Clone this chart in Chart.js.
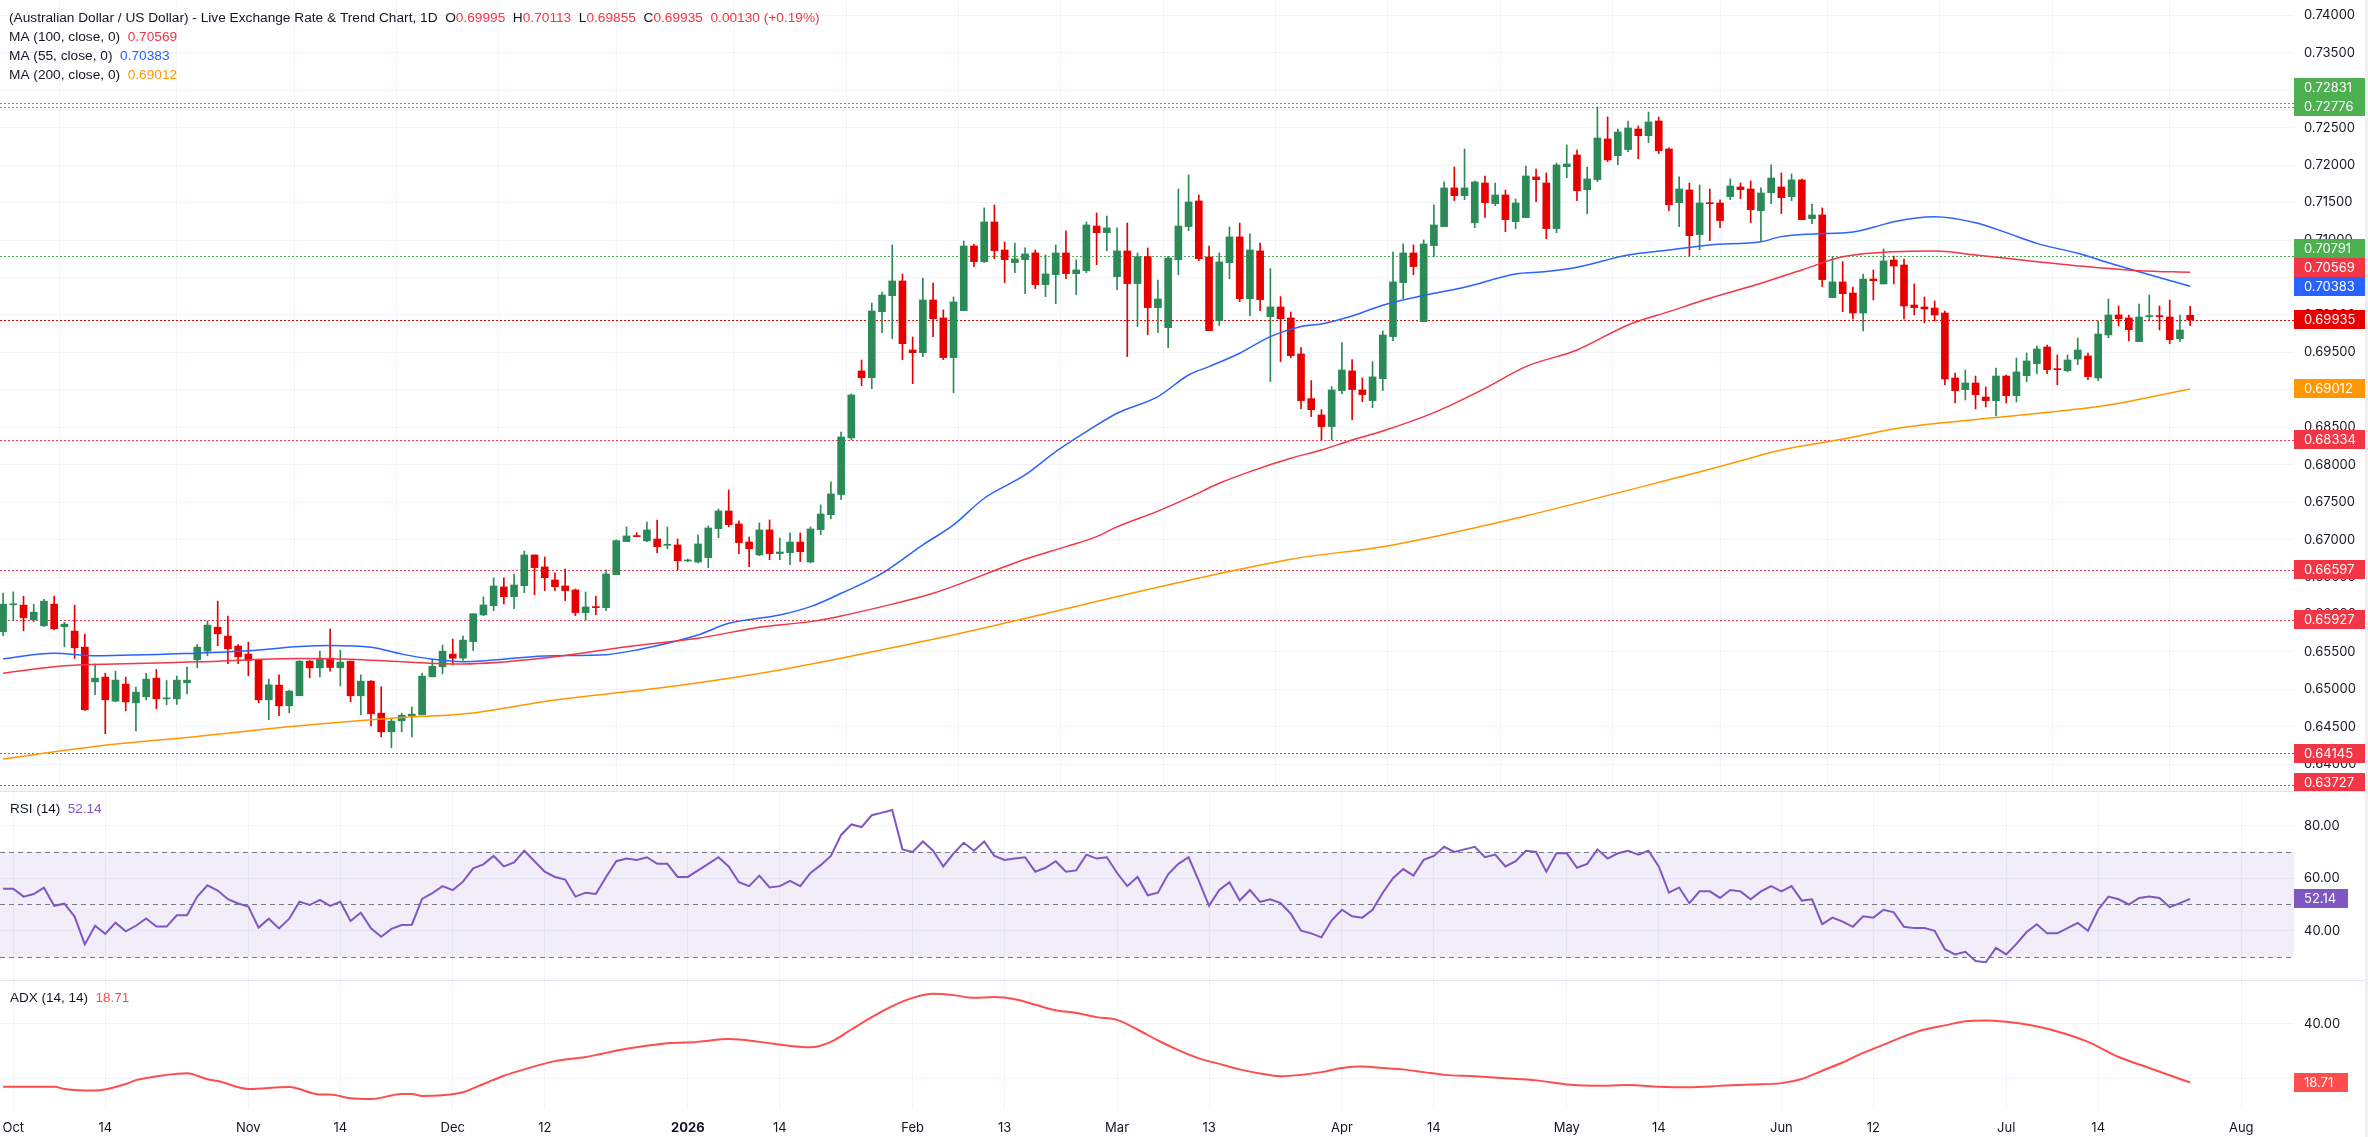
<!DOCTYPE html>
<html>
<head>
<meta charset="utf-8">
<script src="https://cdn.jsdelivr.net/npm/chart.js@4.4.1/dist/chart.umd.min.js"></script>
<style>
  html, body { margin: 0; padding: 0; background: #fff; }
  #wrap { position: relative; width: 2368px; height: 1137px; overflow: hidden; }
  #wrap canvas { position: absolute; left: 0; }
  .sep { position: absolute; left: 0; width: 2368px; height: 1px; background: #e0e3eb; }
</style>
</head>
<body>
<div id="wrap">
  <canvas id="price" width="2368" height="792" style="top:0"></canvas>
  <canvas id="rsi" width="2368" height="188" style="top:792px"></canvas>
  <canvas id="adx" width="2368" height="157" style="top:980px"></canvas>
  <div class="sep" style="top:791px"></div>
  <div class="sep" style="top:980px"></div>
  <div style="position:absolute;left:2365px;top:0;width:3px;height:1137px;background:#eef0f4"></div>
</div>
<script>
// daily bars, index 0 = 1 Oct 2025 (weekdays only), first bar is 30 Sep
const firstBar = -1;

const open = [
  0.65769,0.66129,0.66125,0.65929,0.65849,0.66138,0.65836,0.65778,0.65564,0.65101,
  0.65164,0.64843,0.65070,0.64821,0.64901,0.65150,0.64874,0.64874,0.65088,0.65395,
  0.65511,0.65831,0.65711,0.65578,0.65471,0.65395,0.64861,0.65057,0.64781,0.64915,
  0.65377,0.65288,0.65417,0.65288,0.65377,0.64915,0.65110,0.64683,0.64434,0.64581,
  0.64648,0.64661,0.65168,0.65302,0.65471,0.65417,0.65638,0.65994,0.66118,0.66368,
  0.66238,0.66385,0.66795,0.66635,0.66461,0.66381,0.66328,0.66025,0.66101,0.66092,
  0.66532,0.66973,0.67053,0.66982,0.67008,0.66924,0.66928,0.66715,0.66701,0.66759,
  0.67146,0.67382,0.67209,0.66968,0.66795,0.67129,0.66813,0.66826,0.66968,0.66701,
  0.67133,0.67333,0.67601,0.68357,0.69251,0.69162,0.70043,0.70257,0.70453,0.69532,
  0.69496,0.70199,0.69959,0.69430,0.70057,0.70920,0.70711,0.71241,0.70867,0.70698,
  0.70738,0.70827,0.70404,0.70538,0.70827,0.70551,0.70591,0.71187,0.71098,0.70511,
  0.70854,0.70418,0.70778,0.70097,0.69830,0.70738,0.71179,0.71521,0.70774,0.69924,
  0.70698,0.71041,0.70217,0.70854,0.69977,0.70106,0.69959,0.69479,0.68882,0.68664,
  0.68509,0.68989,0.69252,0.68998,0.68856,0.69149,0.69710,0.70431,0.70827,0.69910,
  0.70925,0.71179,0.71695,0.71592,0.71230,0.71761,0.71485,0.71601,0.71245,0.71299,
  0.71842,0.71761,0.71152,0.71979,0.72135,0.71672,0.71806,0.72349,0.72126,0.72207,
  0.72482,0.72393,0.72589,0.72215,0.71499,0.71668,0.71072,0.71494,0.71494,0.71579,
  0.71708,0.71681,0.71392,0.71632,0.71708,0.71579,0.71802,0.71285,0.71334,0.70231,
  0.70440,0.70292,0.70025,0.70479,0.70413,0.70733,0.70666,0.70132,0.70106,0.70092,
  0.70025,0.69158,0.69002,0.69091,0.68904,0.68855,0.69184,0.68922,0.69189,0.69349,
  0.69572,0.69278,0.69256,0.69411,0.69451,0.69158,0.69732,0.69999,0.69959,0.69643,
  0.69977,0.69985,0.69972,0.69683,0.69995
];
const high = [
  0.66285,0.66303,0.66245,0.66138,0.66201,0.66245,0.65898,0.66125,0.65738,0.65337,
  0.65217,0.65244,0.65164,0.65030,0.65213,0.65266,0.65119,0.65177,0.65297,0.65600,
  0.65911,0.66178,0.65978,0.65600,0.65631,0.65404,0.65137,0.65195,0.64990,0.65386,
  0.65386,0.65511,0.65805,0.65524,0.65377,0.65195,0.65119,0.65035,0.64616,0.64683,
  0.64763,0.65217,0.65404,0.65591,0.65671,0.65711,0.66010,0.66234,0.66488,0.66488,
  0.66541,0.66848,0.66795,0.66768,0.66555,0.66608,0.66341,0.66301,0.66247,0.66595,
  0.66995,0.67169,0.67093,0.67235,0.67262,0.67169,0.67008,0.66741,0.67062,0.67182,
  0.67409,0.67663,0.67249,0.67035,0.67222,0.67262,0.67022,0.67089,0.67089,0.67169,
  0.67462,0.67770,0.68437,0.68944,0.69398,0.70159,0.70306,0.70933,0.70546,0.69705,
  0.70493,0.70426,0.70066,0.70240,0.70987,0.70947,0.71428,0.71468,0.70974,0.70960,
  0.70894,0.70867,0.70800,0.70934,0.71121,0.70734,0.71241,0.71361,0.71321,0.71161,
  0.71227,0.70827,0.70894,0.70466,0.70782,0.71681,0.71868,0.71601,0.70920,0.70827,
  0.71174,0.71227,0.71081,0.70960,0.70618,0.70244,0.70039,0.69563,0.69123,0.68735,
  0.69043,0.69630,0.69403,0.69158,0.69376,0.69786,0.70840,0.70947,0.70934,0.71001,
  0.71468,0.71775,0.71975,0.72215,0.71788,0.71855,0.71761,0.71668,0.71548,0.71988,
  0.71948,0.71895,0.72028,0.72269,0.72202,0.71975,0.72776,0.72643,0.72482,0.72589,
  0.72522,0.72709,0.72643,0.72229,0.71842,0.71761,0.71735,0.71681,0.71535,0.71815,
  0.71761,0.71788,0.71695,0.72002,0.71895,0.71882,0.71815,0.71480,0.71428,0.70778,
  0.70711,0.70373,0.70546,0.70600,0.70880,0.70786,0.70746,0.70413,0.70239,0.70186,
  0.70052,0.69224,0.69265,0.69184,0.69038,0.69291,0.69198,0.69425,0.69491,0.69585,
  0.69598,0.69465,0.69465,0.69692,0.69491,0.69919,0.70212,0.70119,0.69999,0.70146,
  0.70266,0.70119,0.70199,0.69999,0.70113
];
const low = [
  0.65716,0.65916,0.65782,0.65902,0.65840,0.65796,0.65569,0.65413,0.64719,0.64928,
  0.64407,0.64834,0.64714,0.64447,0.64861,0.64740,0.64794,0.64799,0.64941,0.65288,
  0.65449,0.65582,0.65342,0.65342,0.65182,0.64821,0.64594,0.64648,0.64688,0.64915,
  0.65155,0.65168,0.65244,0.65048,0.64834,0.64661,0.64514,0.64367,0.64220,0.64434,
  0.64367,0.64661,0.65168,0.65208,0.65328,0.65386,0.65518,0.65985,0.66052,0.66141,
  0.66078,0.66292,0.66265,0.66319,0.66319,0.66185,0.65985,0.65918,0.65998,0.66052,
  0.66532,0.66973,0.67040,0.66973,0.66826,0.66879,0.66595,0.66706,0.66688,0.66626,
  0.67026,0.67173,0.66813,0.66639,0.66786,0.66732,0.66732,0.66666,0.66706,0.66688,
  0.67066,0.67280,0.67534,0.68330,0.69055,0.69015,0.69763,0.69683,0.69402,0.69082,
  0.69443,0.69710,0.69403,0.68962,0.70057,0.70645,0.70698,0.70751,0.70431,0.70564,
  0.70284,0.70351,0.70244,0.70151,0.70484,0.70271,0.70564,0.70671,0.70858,0.70337,
  0.69443,0.69844,0.69737,0.69763,0.69563,0.70538,0.71125,0.70725,0.69790,0.69857,
  0.70484,0.70177,0.69990,0.70057,0.69110,0.69376,0.69430,0.68749,0.68642,0.68331,
  0.68331,0.68949,0.68602,0.68842,0.68762,0.68989,0.69657,0.70217,0.70538,0.69910,
  0.70778,0.71179,0.71526,0.71539,0.71165,0.71300,0.71459,0.71112,0.71152,0.71299,
  0.71512,0.71018,0.71098,0.71833,0.71526,0.71352,0.71779,0.72046,0.72006,0.72180,
  0.72086,0.72300,0.72153,0.71392,0.71179,0.70787,0.70871,0.70992,0.71165,0.71539,
  0.71552,0.71232,0.70992,0.71485,0.71352,0.71526,0.71272,0.71219,0.70378,0.70231,
  0.70044,0.69945,0.69785,0.70199,0.70413,0.70413,0.69945,0.69999,0.69892,0.69919,
  0.69064,0.68824,0.68864,0.68744,0.68771,0.68651,0.68824,0.68837,0.69109,0.69216,
  0.69216,0.69069,0.69242,0.69336,0.69136,0.69122,0.69696,0.69852,0.69652,0.69643,
  0.69932,0.69799,0.69616,0.69643,0.69855
];
const close = [
  0.66138,0.66134,0.65956,0.66031,0.66178,0.65809,0.65871,0.65555,0.64728,0.65150,
  0.64861,0.65124,0.64834,0.64963,0.65137,0.64874,0.64883,0.65124,0.65124,0.65564,
  0.65858,0.65742,0.65542,0.65435,0.65386,0.64861,0.65061,0.64781,0.64977,0.65377,
  0.65288,0.65417,0.65293,0.65364,0.64915,0.65110,0.64674,0.64434,0.64576,0.64656,
  0.64670,0.65177,0.65310,0.65511,0.65417,0.65658,0.66010,0.66127,0.66381,0.66238,
  0.66394,0.66795,0.66626,0.66492,0.66372,0.66319,0.66025,0.66101,0.66092,0.66541,
  0.66986,0.67049,0.67040,0.67129,0.66906,0.66933,0.66719,0.66728,0.66942,0.67155,
  0.67382,0.67200,0.66960,0.66879,0.67129,0.66813,0.66835,0.66968,0.66839,0.67142,
  0.67342,0.67610,0.68370,0.68931,0.69162,0.70052,0.70266,0.70453,0.69616,0.69496,
  0.70199,0.69950,0.69430,0.70173,0.70920,0.70711,0.71241,0.70858,0.70738,0.70747,
  0.70814,0.70404,0.70547,0.70827,0.70551,0.70600,0.71201,0.71098,0.71161,0.70854,
  0.70418,0.70778,0.70097,0.70213,0.70760,0.71187,0.71508,0.70751,0.69790,0.70707,
  0.71041,0.70217,0.70867,0.70204,0.70106,0.69950,0.69456,0.68856,0.68735,0.68509,
  0.68998,0.69265,0.69003,0.68936,0.69172,0.69732,0.70440,0.70827,0.70645,0.70947,
  0.71201,0.71695,0.71592,0.71695,0.71775,0.71499,0.71601,0.71272,0.71494,0.71855,
  0.71806,0.71152,0.72002,0.72015,0.71659,0.71815,0.72362,0.72069,0.72442,0.72496,
  0.72393,0.72576,0.72193,0.71472,0.71681,0.71058,0.71494,0.71485,0.71259,0.71721,
  0.71672,0.71405,0.71628,0.71828,0.71566,0.71802,0.71272,0.71334,0.70471,0.70440,
  0.70284,0.70025,0.70479,0.70457,0.70720,0.70653,0.70119,0.70097,0.70079,0.69999,
  0.69144,0.68989,0.69091,0.68935,0.68855,0.69184,0.68922,0.69238,0.69385,0.69545,
  0.69269,0.69269,0.69398,0.69532,0.69176,0.69745,0.69999,0.69950,0.69803,0.69972,
  0.69985,0.69977,0.69669,0.69799,0.69935
];

// moving averages: [bar index, value]
const ma55 = [
  [-1,0.65410],[4,0.65484],[8,0.65449],[18,0.65484],[23,0.65515],[28,0.65573],[31,0.65586],[35,0.65564],
  [38,0.65471],[41,0.65404],[44,0.65370],[52,0.65446],[58,0.65464],[61,0.65527],[67,0.65727],[70,0.65882],
  [75,0.65994],[78,0.66105],[81,0.66283],[85,0.66550],[89,0.66930],[92,0.67196],[95,0.67552],[99,0.67863],
  [102,0.68175],[105,0.68442],[108,0.68687],[112,0.68910],[115,0.69198],[117,0.69310],[120,0.69488],
  [123,0.69710],[126,0.69844],[128,0.69880],[131,0.69986],[134,0.70130],[139,0.70288],[142,0.70369],
  [147,0.70547],[150,0.70578],[153,0.70636],[158,0.70800],[162,0.70867],[166,0.70934],[171,0.70978],
  [173,0.71045],[176,0.71081],[180,0.71107],[182,0.71169],[184,0.71245],[188,0.71311],[192,0.71231],
  [195,0.71098],[198,0.70955],[202,0.70822],[205,0.70697],[208,0.70577],[213,0.70383]
];
const ma100 = [
  [-1,0.65215],[5,0.65315],[12,0.65346],[18,0.65368],[28,0.65413],[33,0.65404],[38,0.65368],[44,0.65340],
  [53,0.65437],[60,0.65570],[67,0.65682],[73,0.65829],[78,0.65905],[81,0.65981],[85,0.66105],[90,0.66283],
  [99,0.66737],[103,0.66906],[106,0.67040],[108,0.67170],[112,0.67380],[115,0.67560],[118,0.67752],
  [121,0.67908],[125,0.68086],[128,0.68197],[131,0.68331],[134,0.68450],[139,0.68695],[144,0.69020],
  [148,0.69310],[153,0.69532],[158,0.69866],[162,0.70044],[166,0.70222],[171,0.70422],[175,0.70600],
  [179,0.70775],[184,0.70844],[188,0.70853],[192,0.70800],[195,0.70755],[198,0.70711],[203,0.70644],
  [208,0.70591],[213,0.70569]
];
const ma200 = [
  [-1,0.64070],[8,0.64238],[18,0.64372],[28,0.64514],[38,0.64625],[44,0.64670],[53,0.64859],[63,0.65015],
  [71,0.65170],[75,0.65260],[81,0.65415],[90,0.65669],[125,0.66737],[135,0.66929],[166,0.67939],
  [173,0.68197],[179,0.68343],[185,0.68499],[195,0.68642],[205,0.68797],[213,0.69012]
];

// RSI(14), one value per bar from firstBar
const rsi = [
  56.0,56.0,53.0,54.0,56.4,49.5,50.3,45.4,34.8,41.9,
  38.8,43.1,39.8,41.9,44.7,41.6,41.6,45.9,45.9,53.0,
  57.3,55.3,52.0,50.4,49.2,41.2,44.6,40.9,44.6,51.1,
  49.8,51.8,49.5,51.0,43.7,46.9,40.9,37.7,40.7,42.2,
  42.3,52.1,54.3,57.0,55.5,58.7,63.8,65.3,68.5,64.5,
  66.0,70.5,66.5,62.5,60.5,59.5,53.0,54.5,54.0,60.5,
  66.5,67.5,67.0,68.0,65.5,65.5,60.5,60.5,63.0,65.5,
  68.0,64.5,58.5,57.0,61.0,56.5,57.0,59.0,57.0,62.0,
  65.0,68.5,76.5,80.5,79.5,84.0,85.0,86.0,71.0,70.0,
  74.0,70.5,64.5,69.5,73.5,70.5,74.0,68.5,67.0,67.5,
  68.0,62.5,64.0,66.5,62.5,63.0,69.0,67.5,68.0,62.0,
  57.0,60.5,53.5,54.5,61.5,65.5,68.0,59.0,49.5,55.5,
  58.5,51.5,55.5,51.0,52.0,50.5,46.5,40.0,39.0,37.5,
  44.0,48.0,45.5,45.0,48.0,54.5,60.0,63.5,61.0,67.0,
  68.5,72.0,70.0,71.0,72.0,68.0,69.0,64.5,66.5,70.5,
  70.0,62.5,69.5,69.5,64.0,65.5,71.0,67.5,69.5,70.5,
  69.0,70.5,64.5,54.5,56.5,50.5,55.0,55.0,52.5,55.5,
  55.0,52.0,55.0,57.0,55.0,57.0,51.5,52.0,42.5,45.0,
  43.5,41.5,45.5,45.0,48.0,47.0,41.5,41.0,41.0,40.0,
  33.0,31.0,32.0,28.5,28.0,33.5,31.0,35.0,39.5,42.5,
  39.0,39.0,41.0,43.0,40.0,48.0,53.0,52.0,50.0,52.5,
  53.0,52.5,49.0,50.5,52.14
];

// ADX(14,14): [bar index, value]
const adx = [
  [-1,17.2],[4,17.2],[5,16.4],[8,15.8],[11,18.2],[12,19.6],[15,21.5],[17,22.1],[19,19.9],[20,19.3],
  [23,16.4],[27,17.1],[30,14.4],[31,14.4],[33,13.0],[35,12.7],[38,14.5],[39,14.5],[40,13.8],[42,14.1],
  [44,15.2],[46,18.2],[48,21.2],[50,23.5],[53,26.5],[56,28.0],[60,31.0],[64,33.0],[67,33.5],[70,34.5],
  [73,33.5],[76,32.0],[78,31.5],[80,33.5],[82,38.0],[84,42.5],[86,46.5],[88,49.5],[90,51.0],[92,50.5],
  [94,49.5],[96,49.8],[98,49.0],[100,47.0],[102,45.0],[104,44.0],[106,42.5],[108,41.5],[110,38.0],
  [112,34.0],[114,30.5],[116,27.5],[118,25.5],[120,23.5],[122,22.0],[124,21.0],[126,21.5],[128,22.5],
  [130,24.0],[132,24.5],[134,24.0],[136,23.5],[138,22.5],[140,21.5],[143,21.0],[146,20.3],[149,19.5],
  [152,18.0],[155,17.5],[158,17.8],[161,17.2],[164,17.0],[167,17.5],[170,18.0],[173,18.5],[175,20.0],
  [177,23.0],[179,26.0],[181,29.5],[183,32.5],[185,35.5],[187,38.0],[189,39.5],[191,41.0],[193,41.3],
  [195,40.8],[197,39.8],[200,37.3],[203,33.5],[206,28.0],[209,24.0],[213,18.71]
];

// horizontal levels
const resistance = [0.72831, 0.72776, 0.70791];
const support = [0.68334, 0.66597, 0.65927, 0.64145, 0.63727];

// axis ticks
const tickIdx = [0, 9, 23, 32, 43, 52, 66, 75, 88, 97, 108, 117, 130, 139, 152, 161, 173, 182, 195, 204, 218];
const tickText = ['Oct','14','Nov','14','Dec','12','2026','14','Feb','13','Mar','13','Apr','14','May','14','Jun','12','Jul','14','Aug'];
const priceTicks = [0.640,0.645,0.650,0.655,0.660,0.665,0.670,0.675,0.680,0.685,0.690,0.695,0.700,0.705,0.710,0.715,0.720,0.725,0.730,0.735,0.740];
const rsiTicks = [40, 60, 80];
const adxTicks = [20, 40];

const titleText = '(Australian Dollar / US Dollar) - Live Exchange Rate & Trend Chart, 1D';
const changeText = '0.00130 (+0.19%)';

// ------------------------------------------------------------
const FONT = 'Inter, "Noto Sans", sans-serif';
const LEGEND_FONT = '"Liberation Sans", Arial, sans-serif';
const TXT = '#131722';
const GREEN = '#2b8a57', RED = '#e60000';
const C_MA100 = '#f23645', C_MA55 = '#2962ff', C_MA200 = '#ff9800';
const C_RSI = '#7e57c2', C_ADX = '#ff4d4d';
const GRID = '#f0f3fa';
const AXIS_W = 74;

Chart.defaults.font.family = FONT;
Chart.defaults.font.size = 13;
Chart.defaults.color = TXT;

const last = close.length - 1;
const lastClose = close[last];
const candleColor = close.map((c, k) => c >= open[k] ? GREEN : RED);
const bodyData = open.map((o, k) => ({ x: firstBar + k, y: [o, close[k]] }));
const wickData = high.map((h, k) => ({ x: firstBar + k, y: [low[k], h] }));
const pairs = arr => arr.map(([x, y]) => ({ x, y }));
const fmt5 = v => v.toFixed(5);

function xScale(showLabels) {
  return {
    type: 'linear', min: -1.301, max: 223.16, offset: false,
    grid: { color: GRID, drawTicks: false },
    border: { display: false },
    afterBuildTicks: s => { s.ticks = tickIdx.map(v => ({ value: v })); },
    afterFit: s => { s.height = showLabels ? 27 : 0; s.paddingLeft = 0; s.paddingRight = 0; },
    ticks: {
      display: showLabels, autoSkip: false, maxRotation: 0, padding: 10, color: TXT,
      callback: v => tickText[tickIdx.indexOf(v)],
      font: c => ({ size: 13, weight: (c.tick && tickText[tickIdx.indexOf(c.tick.value)] === '2026') ? 'bold' : 'normal' })
    }
  };
}

function yScale(min, max, ticks, fmt) {
  return {
    position: 'right', min, max,
    grid: { color: GRID, drawTicks: false },
    border: { display: false },
    afterBuildTicks: s => { s.ticks = ticks.map(v => ({ value: v })); },
    afterFit: s => { s.width = AXIS_W; s.paddingTop = 0; s.paddingBottom = 0; },
    ticks: { padding: 10, color: TXT, callback: fmt }
  };
}

const baseOptions = {
  responsive: false, animation: false, events: [],
  layout: { padding: 0 },
  plugins: { legend: { display: false }, tooltip: { enabled: false } }
};

function valueBox(ctx, area, y, text, color, w) {
  ctx.fillStyle = color;
  ctx.fillRect(area.right, Math.round(y - 9.5), w, 19);
  ctx.fillStyle = '#ffffff';
  ctx.font = '13px ' + FONT;
  ctx.textAlign = 'left';
  ctx.textBaseline = 'middle';
  ctx.fillText(text, area.right + 10, y + 0.5);
}

function runs(ctx, x, y, parts, size) {
  for (const [t, c] of parts) {
    ctx.font = size + 'px ' + LEGEND_FONT;
    ctx.fillStyle = c;
    ctx.fillText(t, x, y);
    x += ctx.measureText(t).width;
  }
}

// ---------------- price pane ----------------
const priceDecor = {
  id: 'priceDecor',
  beforeDatasetsDraw(chart) {
    const { ctx, chartArea: a, scales: { y } } = chart;
    const lines = [
      ...resistance.map(v => [v, '#4caf50']),
      ...support.map(v => [v, '#f23645']),
      [lastClose, RED]
    ];
    ctx.save();
    ctx.lineWidth = 1;
    ctx.setLineDash([2, 2]);
    for (const [v, c] of lines) {
      const py = Math.round(y.getPixelForValue(v)) + 0.5;
      ctx.strokeStyle = c;
      ctx.beginPath(); ctx.moveTo(a.left, py); ctx.lineTo(a.right, py); ctx.stroke();
    }
    ctx.restore();
  },
  afterDraw(chart) {
    const { ctx, chartArea: a, scales: { y } } = chart;
    ctx.save();
    const boxes = [
      ...resistance.map(v => ({ v, c: '#4caf50' })),
      { v: ma100[ma100.length - 1][1], c: C_MA100 },
      { v: ma55[ma55.length - 1][1], c: C_MA55 },
      { v: lastClose, c: RED },
      { v: ma200[ma200.length - 1][1], c: C_MA200 },
      ...support.map(v => ({ v, c: '#f23645' }))
    ].map(b => ({ ...b, py: y.getPixelForValue(b.v) }));
    // stack labels upward when they would overlap
    boxes.sort((p, q) => q.py - p.py);
    let prev = a.bottom + 9.5;
    for (const b of boxes) {
      b.py = Math.min(b.py, prev - 19);
      prev = b.py;
    }
    for (const b of boxes) valueBox(ctx, a, b.py, fmt5(b.v), b.c, 71);

    ctx.textAlign = 'left';
    ctx.textBaseline = 'middle';
    const RV = '#f23645';
    const fs = 13.7;
    runs(ctx, 9, 18.5, [
      [titleText + '  ', TXT], ['O', TXT], [fmt5(open[last]), RV],
      ['  H', TXT], [fmt5(high[last]), RV], ['  L', TXT], [fmt5(low[last]), RV],
      ['  C', TXT], [fmt5(lastClose), RV], ['  ' + changeText, RV]
    ], fs);
    runs(ctx, 9, 37.5, [['MA (100, close, 0)  ', TXT], [fmt5(ma100[ma100.length - 1][1]), C_MA100]], fs);
    runs(ctx, 9, 56.5, [['MA (55, close, 0)  ', TXT], [fmt5(ma55[ma55.length - 1][1]), C_MA55]], fs);
    runs(ctx, 9, 75.5, [['MA (200, close, 0)  ', TXT], [fmt5(ma200[ma200.length - 1][1]), C_MA200]], fs);
    ctx.restore();
  }
};

const maLine = (data, color) => ({
  type: 'line', data: pairs(data), borderColor: color, borderWidth: 1.5,
  pointRadius: 0, cubicInterpolationMode: 'monotone', order: 0
});

new Chart(document.getElementById('price'), {
  type: 'bar',
  data: {
    datasets: [
      maLine(ma100, C_MA100),
      maLine(ma55, C_MA55),
      maLine(ma200, C_MA200),
      { data: bodyData, backgroundColor: candleColor, barThickness: 7, minBarLength: 1, grouped: false, order: 1 },
      { data: wickData, backgroundColor: candleColor, barThickness: 1, grouped: false, order: 2 }
    ]
  },
  options: {
    ...baseOptions,
    scales: { x: xScale(false), y: yScale(0.636302, 0.742043, priceTicks, fmt5) }
  },
  plugins: [priceDecor]
});

// ---------------- RSI pane ----------------
const rsiDecor = {
  id: 'rsiDecor',
  beforeDatasetsDraw(chart) {
    const { ctx, chartArea: a, scales: { y } } = chart;
    ctx.save();
    const y70 = y.getPixelForValue(70), y30 = y.getPixelForValue(30);
    ctx.fillStyle = 'rgba(126, 87, 194, 0.1)';
    ctx.fillRect(a.left, y70, a.right - a.left, y30 - y70);
    ctx.strokeStyle = '#787b86';
    ctx.lineWidth = 1;
    ctx.setLineDash([5, 4]);
    for (const v of [70, 50, 30]) {
      const py = Math.round(y.getPixelForValue(v)) + 0.5;
      ctx.beginPath(); ctx.moveTo(a.left, py); ctx.lineTo(a.right, py); ctx.stroke();
    }
    ctx.restore();
  },
  afterDraw(chart) {
    const { ctx, chartArea: a, scales: { y } } = chart;
    const v = rsi[rsi.length - 1];
    ctx.save();
    valueBox(ctx, a, y.getPixelForValue(v), v.toFixed(2), C_RSI, 54);
    ctx.textBaseline = 'middle';
    runs(ctx, 10, 17, [['RSI (14)  ', TXT], [v.toFixed(2), C_RSI]], 13.5);
    ctx.restore();
  }
};

new Chart(document.getElementById('rsi'), {
  type: 'line',
  data: {
    datasets: [{
      data: rsi.map((v, k) => ({ x: firstBar + k, y: v })),
      borderColor: C_RSI, borderWidth: 2, pointRadius: 0, tension: 0
    }]
  },
  options: {
    ...baseOptions,
    scales: { x: xScale(false), y: yScale(21.238, 92.857, rsiTicks, v => v.toFixed(2)) }
  },
  plugins: [rsiDecor]
});

// ---------------- ADX pane ----------------
const adxDecor = {
  id: 'adxDecor',
  afterDraw(chart) {
    const { ctx, chartArea: a, scales: { y } } = chart;
    const v = adx[adx.length - 1][1];
    ctx.save();
    valueBox(ctx, a, y.getPixelForValue(v), v.toFixed(2), C_ADX, 54);
    ctx.textBaseline = 'middle';
    runs(ctx, 10, 18, [['ADX (14, 14)  ', TXT], [v.toFixed(2), C_ADX]], 13.5);
    ctx.restore();
  }
};

new Chart(document.getElementById('adx'), {
  type: 'line',
  data: {
    datasets: [{
      data: pairs(adx),
      borderColor: C_ADX, borderWidth: 2, pointRadius: 0, cubicInterpolationMode: 'monotone'
    }]
  },
  options: {
    ...baseOptions,
    scales: { x: xScale(true), y: yScale(8.727, 56.0, adxTicks, v => v.toFixed(2)) }
  },
  plugins: [adxDecor]
});
</script>
</body>
</html>
